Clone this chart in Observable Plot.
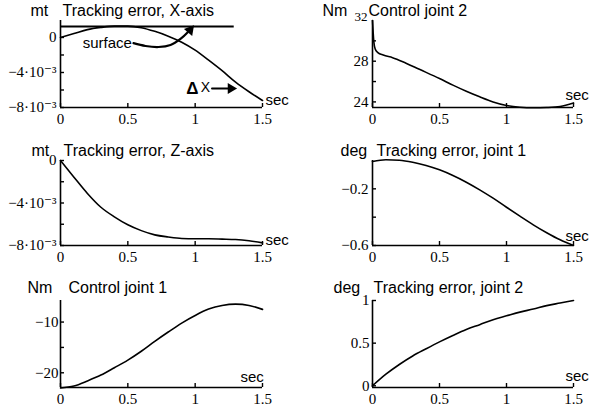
<!DOCTYPE html>
<html>
<head>
<meta charset="utf-8">
<script src="https://cdn.jsdelivr.net/npm/d3@7"></script>
<script src="https://cdn.jsdelivr.net/npm/@observablehq/plot@0.6"></script>
<style>
  body { margin: 0; background: #fff; }
  #root { position: relative; width: 590px; height: 419px; background: #fff; overflow: hidden; }
  .panel { position: absolute; }
</style>
</head>
<body>
<div id="root"></div>
<script>
// ---------- data ----------
const time = [0, 0.1, 0.2, 0.3, 0.4, 0.5, 0.6, 0.7, 0.8, 0.9, 1.0, 1.1, 1.2, 1.3, 1.4, 1.5];
const timeCtrl2 = [0, 0.005, 0.01, 0.02, 0.04, 0.08, 0.15, 0.25, 0.35, 0.5, 0.6, 0.7, 0.8, 0.9, 1.0, 1.1, 1.2, 1.3, 1.4, 1.5];

// Tracking error, X-axis (mt)
const errX = [0, 0.45e-3, 0.9e-3, 1.15e-3, 1.3e-3, 1.3e-3, 1.12e-3, 0.7e-3, 0.15e-3, -0.54e-3, -1.45e-3, -2.6e-3, -3.8e-3, -5.1e-3, -6.2e-3, -7.2e-3];
// Control joint 2 (Nm)
const ctrl2 = [32, 30.8, 29.9, 29.2, 28.85, 28.6, 28.35, 27.8, 27.2, 26.3, 25.65, 25.05, 24.5, 24.0, 23.65, 23.48, 23.42, 23.45, 23.55, 23.9];
// Tracking error, Z-axis (mt)
const errZ = [0, -1.57e-3, -3.1e-3, -4.4e-3, -5.3e-3, -6.05e-3, -6.6e-3, -7.0e-3, -7.2e-3, -7.34e-3, -7.37e-3, -7.37e-3, -7.4e-3, -7.44e-3, -7.56e-3, -7.75e-3];
// Tracking error, joint 1 (deg)
const errJ1 = [-0.007, 0.005, 0.002, -0.012, -0.035, -0.066, -0.106, -0.153, -0.207, -0.266, -0.33, -0.393, -0.454, -0.51, -0.56, -0.6];
// Control joint 1 (Nm)
const ctrl1 = [-23.0, -22.6, -21.6, -20.45, -19.0, -17.5, -15.75, -13.8, -11.96, -10.2, -8.7, -7.45, -6.73, -6.47, -6.73, -7.5];
// Tracking error, joint 2 (deg)
const errJ2 = [0, 0.136, 0.25, 0.35, 0.434, 0.515, 0.59, 0.66, 0.717, 0.775, 0.82, 0.864, 0.9, 0.94, 0.97, 1.0];

// tick labels
const xTicks = [0, 0.5, 1, 1.5];
const xTickLabels = ["0", "0.5", "1", "1.5"];
const mtTicks = [0, -2e-3, -4e-3, -6e-3, -8e-3];
const mtTickLabels = ["0", "", "\u22124\u00b710\u207b\u00b3", "", "\u22128\u00b710\u207b\u00b3"];
const ctrl2Ticks = [24, 26, 28, 30];
const ctrl2TickLabels = ["24", "", "28", ""];
const ctrl2TopTick = [32];
const j1Ticks = [-0.2, -0.4, -0.6];
const j1TickLabels = ["\u22120.2", "", "\u22120.6"];
const c1Ticks = [-10, -15, -20];
const c1TickLabels = ["\u221210", "", "\u221220"];
const j2Ticks = [0, 0.5, 1];
const j2TickLabels = ["0", "0.5", "1"];

// annotations (panel 1), in data units
const surfaceLevel = [1.26e-3];
const surfaceEnd = [1.29];
const surfaceArrowT = [0.542, 0.631, 0.728, 0.817, 0.891, 0.945];
const surfaceArrowV = [-0.65e-3, -0.97e-3, -1.09e-3, -0.86e-3, -0.17e-3, 0.6e-3];
const surfaceArrowTip = [{t: 0.962, v: 0.85e-3}];
const surfaceLabel = [{t: 0.165, v: -0.69e-3, text: "surface"}];
const deltaLabel = [{t: 0.98, v: -5.83e-3}];
const deltaArrowT = [1.125, 1.25];
const deltaArrowV = [-5.83e-3, -5.83e-3];
const deltaArrowTip = [{t: 1.265, v: -5.83e-3}];

// ---------- drawing ----------
const SERIF = "'Liberation Serif', 'Times New Roman', 'DejaVu Serif', serif";
const SANS = "'Liberation Sans', Arial, Helvetica, sans-serif";
const root = document.getElementById("root");

function makePanel(cfg) {
  const data = cfg.time.map((x, i) => ({x, y: cfg.values[i]}));
  const labelMap = new Map(cfg.yTicks.map((d, i) => [d, cfg.yTickLabels[i]]));
  const chart = Plot.plot({
    width: 295,
    height: cfg.height,
    marginLeft: cfg.mL, marginRight: cfg.mR, marginTop: cfg.mT, marginBottom: cfg.mB,
    x: {domain: [0, 1.5], label: null},
    y: {domain: cfg.yDomain, label: null},
    style: {fontFamily: SERIF, fontSize: "15px", color: "#000", background: "transparent", overflow: "visible"},
    marks: [
      Plot.ruleY([cfg.yDomain[0]], {strokeWidth: 1.6}),
      Plot.ruleX([0], {strokeWidth: 1.6}),
      Plot.axisX({ticks: xTicks, tickFormat: d => xTickLabels[xTicks.indexOf(d)], tickSize: -4, tickPadding: 10, strokeWidth: 1.4, label: null, fontSize: 15, fontFamily: SERIF}),
      Plot.axisY({ticks: cfg.yTicks, tickFormat: d => labelMap.get(d) ?? "", tickSize: -4, tickPadding: cfg.yPad ?? 8, strokeWidth: 1.4, label: null, fontSize: 15, fontFamily: SERIF}),
      ...(cfg.extraAxes || []),
      Plot.line(data, {x: "x", y: "y", curve: "monotone-x", strokeWidth: 1.6, stroke: "#000"}),
      Plot.text([cfg.unit], {frameAnchor: "top-left", dx: cfg.unitX - cfg.mL, dy: cfg.titleY - cfg.mT, textAnchor: "start", lineAnchor: "bottom", fontFamily: SANS, fontSize: 16, fill: "#000"}),
      Plot.text([cfg.title], {frameAnchor: "top-left", dx: cfg.titleX - cfg.mL, dy: cfg.titleY - cfg.mT, textAnchor: "start", lineAnchor: "bottom", fontFamily: SANS, fontSize: 16, fill: "#000"}),
      Plot.text(["sec"], {frameAnchor: "bottom-right", dx: cfg.secDx, dy: cfg.secDy, textAnchor: "start", lineAnchor: "bottom", fontFamily: SANS, fontSize: 15, fill: "#000"}),
      ...(cfg.extra || [])
    ]
  });
  const div = document.createElement("div");
  div.className = "panel";
  div.style.left = cfg.left + "px";
  div.style.top = cfg.top + "px";
  div.appendChild(chart);
  root.appendChild(div);
}

// Panel 1: Tracking error, X-axis
makePanel({
  left: 0, top: 0, height: 138, mL: 60, mR: 33, mT: 20, mB: 31,
  yDomain: [-8e-3, 1.94e-3], yTicks: mtTicks, yTickLabels: mtTickLabels,
  time, values: errX,
  unit: "mt", unitX: 30, title: "Tracking error, X-axis", titleX: 62, titleY: 15,
  secDx: 3, secDy: -3,
  extra: [
    Plot.ruleY(surfaceLevel, {x1: 0, x2: surfaceEnd[0], strokeWidth: 2}),
    Plot.text(surfaceLabel, {x: "t", y: "v", text: "text", textAnchor: "start", fontFamily: SANS, fontSize: 15, fill: "#000"}),
    Plot.line(surfaceArrowT.map((t, i) => ({t, v: surfaceArrowV[i]})), {x: "t", y: "v", curve: "catmull-rom", strokeWidth: 2.2}),
    Plot.dot(surfaceArrowTip, {x: "t", y: "v", symbol: "triangle", r: 4, fill: "#000", stroke: null, rotate: 40}),
    Plot.text(deltaLabel, {x: "t", y: "v", text: () => "\u0394", fontFamily: SANS, fontWeight: "bold", fontSize: 17, fill: "#000"}),
    Plot.text(deltaLabel, {x: "t", y: "v", text: () => "X", dx: 13, dy: -1, fontFamily: SANS, fontSize: 14, fill: "#000"}),
    Plot.line(deltaArrowT.map((t, i) => ({t, v: deltaArrowV[i]})), {x: "t", y: "v", strokeWidth: 2}),
    Plot.dot(deltaArrowTip, {x: "t", y: "v", symbol: "triangle", r: 4, fill: "#000", stroke: null, rotate: 90})
  ]
});

// Panel 2: Control joint 2
makePanel({
  left: 295, top: 0, height: 138, mL: 77, mR: 17, mT: 20, mB: 31,
  yDomain: [23.45, 32], yTicks: ctrl2Ticks, yTickLabels: ctrl2TickLabels,
  extraAxes: [
    Plot.axisY({ticks: ctrl2TopTick, tickFormat: d => String(d), tickSize: 0, tickPadding: 5, dy: -4, label: null, fontSize: 13, fontFamily: SERIF})
  ],
  time: timeCtrl2, values: ctrl2,
  unit: "Nm", unitX: 322 - 295, title: "Control joint 2", titleX: 368 - 295, titleY: 15,
  secDx: -8, secDy: -8
});

// Panel 3: Tracking error, Z-axis
makePanel({
  left: 0, top: 138, height: 140, mL: 60, mR: 33, mT: 22, mB: 33,
  yDomain: [-8e-3, 0], yTicks: mtTicks, yTickLabels: mtTickLabels,
  time, values: errZ,
  unit: "mt", unitX: 31, title: "Tracking error, Z-axis", titleX: 63, titleY: 17,
  secDx: 3, secDy: -1
});

// Panel 4: Tracking error, joint 1
makePanel({
  left: 295, top: 138, height: 140, mL: 77, mR: 17, mT: 22, mB: 33,
  yDomain: [-0.6, 0], yTicks: j1Ticks, yTickLabels: j1TickLabels,
  time, values: errJ1,
  unit: "deg", unitX: 340 - 295, title: "Tracking error, joint 1", titleX: 376 - 295, titleY: 17,
  secDx: -8, secDy: -5
});

// Panel 5: Control joint 1
makePanel({
  left: 0, top: 278, height: 141, mL: 60, mR: 33, mT: 22, mB: 32,
  yDomain: [-22.9, -5.75], yTicks: c1Ticks, yTickLabels: c1TickLabels, yPad: 6,
  time, values: ctrl1,
  unit: "Nm", unitX: 27, title: "Control joint 1", titleX: 68, titleY: 14,
  secDx: -22, secDy: -6
});

// Panel 6: Tracking error, joint 2
makePanel({
  left: 295, top: 278, height: 141, mL: 77, mR: 17, mT: 22, mB: 32,
  yDomain: [-0.02, 1], yTicks: j2Ticks, yTickLabels: j2TickLabels, yPad: 7,
  time, values: errJ2,
  unit: "deg", unitX: 333 - 295, title: "Tracking error, joint 2", titleX: 373 - 295, titleY: 14,
  secDx: -8, secDy: -7
});
</script>
</body>
</html>
